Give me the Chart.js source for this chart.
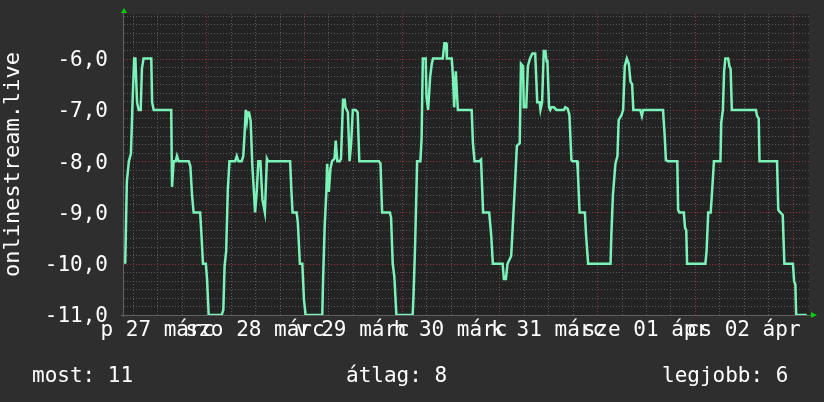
<!DOCTYPE html>
<html>
<head>
<meta charset="utf-8">
<script src="https://cdn.jsdelivr.net/npm/chart.js@4.4.1/dist/chart.umd.min.js"></script>
<style>
  html, body { margin: 0; padding: 0; background: #2e2e2e; }
  #wrap { width: 824px; height: 402px; }
</style>
</head>
<body>
<div id="wrap"><canvas id="chart" width="824" height="402"></canvas></div>
<script>
// hours since midnight of 27 March, and the listener value (negated) at that time
const hours = [
  4.1, 4.5, 5.0, 5.5, 5.9, 6.3, 6.6, 7.0, 7.4, 7.9, 8.2, 8.6, 10.5, 10.7, 11.1, 15.4, 15.6, 16.0, 16.5, 16.8,
  17.2, 19.7, 20.1, 20.5, 20.9, 22.5, 22.8, 23.2, 23.9, 24.2, 24.6, 27.8, 28.2, 28.5, 28.9, 29.3, 29.7, 31.1,
  31.5, 31.9, 32.7, 33.1, 33.4, 33.7, 34.0, 34.2, 34.5, 34.9, 35.3, 36.0, 36.4, 36.8, 37.3, 37.8, 38.4, 38.9,
  39.2, 44.6, 44.9, 45.2, 46.2, 46.5, 47.0, 47.6, 48.0, 48.4, 52.5, 52.7, 53.1, 53.5, 53.7, 54.1, 54.5, 54.9,
  55.5, 55.8, 56.2, 56.8, 57.1, 57.6, 58.0, 58.2, 58.8, 59.2, 59.6, 60.0, 60.7, 61.2, 61.6, 66.4, 66.8, 67.2,
  69.1, 69.4, 69.8, 70.2, 70.7, 74.7, 74.9, 75.3, 75.8, 76.6, 76.9, 77.2, 77.9, 78.1, 78.5, 79.0, 79.4, 79.7,
  82.1, 82.5, 82.9, 83.1, 84.3, 84.6, 84.9, 85.3, 85.8, 89.2, 89.5, 89.9, 91.1, 91.5, 92.0, 93.5, 94.0, 94.4,
  96.8, 97.1, 97.6, 98.0, 98.9, 99.4, 99.9, 100.3, 101.0, 101.3, 101.8, 102.0, 102.6, 103.0, 103.5, 104.1,
  104.8, 105.3, 105.9, 106.1, 106.5, 106.9, 107.3, 107.6, 107.8, 108.2, 108.5, 108.8, 109.4, 110.0, 111.8,
  112.2, 112.8, 113.2, 113.7, 114.0, 115.1, 115.3, 115.7, 117.0, 117.3, 117.8, 123.3, 123.5, 123.9, 124.5,
  125.0, 125.3, 126.0, 126.4, 126.8, 127.3, 127.8, 128.2, 128.6, 128.9, 130.6, 131.0, 131.3, 136.2, 136.6,
  136.9, 137.4, 139.7, 139.9, 140.2, 141.3, 141.6, 141.9, 142.1, 146.6, 146.9, 147.3, 147.9, 148.2, 148.7,
  150.3, 150.5, 150.9, 151.2, 151.5, 152.2, 152.5, 152.8, 153.1, 159.0, 159.3, 159.7, 159.9, 164.2, 164.5,
  165.0, 165.6, 166.0, 168.1, 168.4, 168.7, 168.9, 171.5
];
const listeners = [
  -10.0, -8.4, -8.0, -7.85, -6.85, -6.0, -6.0, -6.85, -7.0, -7.0, -6.2, -6.0, -6.0, -6.85, -7.0, -7.0, -8.5, -8.0, -8.0, -7.9,
  -8.0, -8.0, -8.1, -8.65, -9.0, -9.0, -9.4, -10.0, -10.0, -10.3, -11.0, -11.0, -10.9, -10.05, -9.75, -8.55, -8.0, -8.0,
  -7.9, -8.0, -8.0, -7.9, -7.5, -7.0, -7.2, -7.05, -7.05, -7.2, -8.05, -9.0, -8.6, -8.0, -8.0, -8.75, -9.0, -7.95,
  -8.0, -8.0, -8.55, -9.0, -9.0, -9.2, -10.0, -10.0, -10.7, -11.0, -11.0, -10.3, -9.25, -8.6, -8.05, -8.6, -8.15, -8.0,
  -7.95, -7.6, -8.0, -8.0, -7.95, -6.8, -6.8, -6.95, -7.05, -8.0, -7.65, -7.0, -7.0, -7.05, -8.0, -8.0, -8.05, -9.0,
  -9.0, -9.1, -10.0, -10.25, -11.0, -11.0, -10.65, -9.65, -8.0, -8.0, -7.55, -6.0, -6.0, -6.75, -7.0, -6.35, -6.1, -6.0,
  -6.0, -5.7, -5.7, -6.0, -6.0, -6.35, -6.95, -6.25, -7.0, -7.0, -7.65, -8.0, -8.0, -7.97, -9.0, -9.0, -9.45, -10.0,
  -10.0, -10.3, -10.3, -10.0, -9.85, -9.1, -8.35, -7.7, -7.65, -6.1, -6.15, -6.95, -6.95, -6.15, -6.0, -5.9,
  -5.9, -6.85, -6.85, -7.0, -6.85, -5.85, -5.85, -6.05, -6.05, -6.95, -7.0, -6.95, -6.95, -7.0, -7.0,
  -6.95, -6.98, -7.1, -7.98, -8.0, -8.0, -8.25, -9.0, -9.0, -9.45, -10.0, -10.0, -9.45, -8.65, -8.05,
  -7.9, -7.2, -7.1, -7.0, -6.15, -6.0, -6.1, -6.45, -6.5, -7.0, -7.0, -7.12, -7.0, -7.0, -7.5,
  -7.98, -8.0, -8.0, -8.95, -9.0, -9.0, -9.3, -9.35, -10.0, -10.0, -9.75, -9.0, -9.0, -8.65, -8.0,
  -8.0, -7.25, -7.0, -6.25, -6.0, -6.0, -6.15, -6.2, -7.0, -7.0, -7.12, -7.17, -8.0, -8.0, -8.95,
  -9.0, -9.05, -10.0, -10.0, -10.35, -10.4, -11.0, -11.0
];
const dayLabels = ['p 27 márc', 'szo 28 márc', 'v 29 márc', 'h 30 márc', 'k 31 márc', 'sze 01 ápr', 'cs 02 ápr'];
const labelHours = [12, 36, 60, 84, 108, 132, 156];
const yTicks = [-11, -10, -9, -8, -7, -6];
const legendTexts = ['most: 11', 'átlag: 8', 'legjobb: 6'];

const FONT = 'DejaVu Sans Mono';
const TEXT = '#ffffff';

// rrdtool-like backdrop: plot fill, dotted minor/major grid, axes, arrows, legend line
const rrdLook = {
  id: 'rrdLook',
  beforeDraw(chart) {
    const { ctx, chartArea: a, scales: { x, y } } = chart;
    ctx.save();
    ctx.fillStyle = '#2e2e2e';
    ctx.fillRect(0, 0, chart.width, chart.height);
    ctx.fillStyle = '#232323';
    ctx.fillRect(a.left, a.top, a.right - a.left, a.bottom - a.top);

    ctx.lineWidth = 1;
    ctx.setLineDash([1, 2]);
    const seg = (x1, y1, x2, y2, c) => {
      ctx.strokeStyle = c;
      ctx.beginPath(); ctx.moveTo(x1, y1); ctx.lineTo(x2, y2); ctx.stroke();
    };
    // horizontal: minor every 1/6, red on whole numbers
    for (let k = 1; -11 + k / 6 < y.max; k++) {
      const py = Math.round(y.getPixelForValue(-11 + k / 6)) + 0.5;
      seg(a.left, py, a.right, py, k % 6 === 0 ? '#8a3a3a' : '#5a5a5a');
    }
    // vertical: every 6 hours, red at midnight
    for (let h = 6; h < x.max; h += 6) {
      if (h < x.min) continue;
      const px = Math.round(x.getPixelForValue(h)) + 0.5;
      seg(px, a.top, px, a.bottom, h % 24 === 0 ? '#8a3a3a' : '#5a5a5a');
    }
    ctx.setLineDash([]);
    // axes
    seg(a.left - 0.5, a.top - 2, a.left - 0.5, a.bottom + 2, '#606060');
    seg(a.left - 3, a.bottom + 0.5, a.right + 2, a.bottom + 0.5, '#606060');
    ctx.restore();
  },
  afterDraw(chart) {
    const { ctx, chartArea: a } = chart;
    ctx.save();
    // arrows
    ctx.fillStyle = '#00d000';
    ctx.beginPath();
    ctx.moveTo(a.left - 3, a.top - 1); ctx.lineTo(a.left + 3, a.top - 1); ctx.lineTo(a.left, a.top - 6);
    ctx.closePath(); ctx.fill();
    ctx.beginPath();
    ctx.moveTo(a.right + 2, a.bottom - 3); ctx.lineTo(a.right + 2, a.bottom + 3); ctx.lineTo(a.right + 8, a.bottom);
    ctx.closePath(); ctx.fill();
    // legend line under the chart
    ctx.fillStyle = TEXT;
    ctx.font = '21px "' + FONT + '"';
    ctx.textBaseline = 'alphabetic';
    ctx.textAlign = 'left';
    const lx = [32, 346, 662];
    legendTexts.forEach((t, i) => ctx.fillText(t, lx[i], 382));
    ctx.restore();
  }
};

const ctx = document.getElementById('chart').getContext('2d');
new Chart(ctx, {
  type: 'line',
  data: {
    datasets: [{
      data: hours.map((h, i) => ({ x: h, y: listeners[i] })),
      borderColor: '#7af2b8',
      borderWidth: 2.5,
      pointRadius: 0,
      tension: 0,
      fill: false
    }]
  },
  options: {
    responsive: false,
    animation: false,
    devicePixelRatio: 1,
    layout: { padding: { left: 0, top: 14, right: 15, bottom: 0 } },
    plugins: { legend: { display: false }, tooltip: { enabled: false } },
    scales: {
      x: {
        type: 'linear',
        min: 3.8,
        max: 172.05,
        afterBuildTicks: s => { s.ticks = labelHours.map(v => ({ value: v })); },
        afterFit: s => { s.height = 87; s.paddingLeft = 0; s.paddingRight = 0; },
        grid: { display: false, drawTicks: false },
        border: { display: false },
        ticks: {
          autoSkip: false,
          maxRotation: 0,
          minRotation: 0,
          padding: 3,
          color: TEXT,
          font: { family: FONT, size: 21 },
          callback: v => dayLabels[labelHours.indexOf(v)]
        }
      },
      y: {
        min: -11,
        max: -5.13,
        afterBuildTicks: s => { s.ticks = yTicks.map(v => ({ value: v })); },
        afterFit: s => { s.width = 124; s.paddingTop = 0; s.paddingBottom = 0; },
        grid: { display: false, drawTicks: false },
        border: { display: false },
        ticks: {
          padding: 16,
          labelOffset: 2,
          color: TEXT,
          font: { family: FONT, size: 21 },
          callback: v => v.toFixed(1).replace('.', ',')
        },
        title: {
          display: true,
          text: 'onlinestream.live',
          color: TEXT,
          font: { family: FONT, size: 22 },
          padding: { top: 0, bottom: 0 }
        }
      }
    }
  },
  plugins: [rrdLook]
});
</script>
</body>
</html>
